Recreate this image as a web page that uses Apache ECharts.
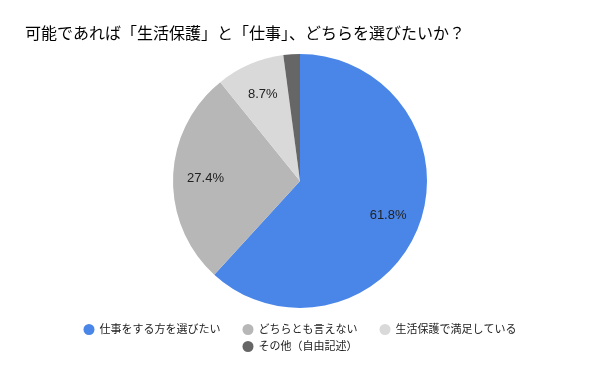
<!DOCTYPE html>
<html><head><meta charset="utf-8">
<script src="https://cdn.jsdelivr.net/npm/echarts@6/dist/echarts.min.js"></script>
<style>html,body{margin:0;padding:0;background:#fff}#c{width:600px;height:371px}</style>
</head><body><div id="c"></div>
<script>
const categories = ['仕事をする方を選びたい','どちらとも言えない','生活保護で満足している','その他（自由記述）'];
const values = [61.8, 27.4, 8.7, 2.1];
const colors = ['#4a86e8','#b7b7b7','#d9d9d9','#666666'];
const labelShown = [true, true, true, false];
const font = '"Liberation Sans", Arial, "Noto Sans CJK JP", sans-serif';
const data = categories.map((n,i)=>({name:n, value:values[i], itemStyle:{color:colors[i]}}));
const legendStyle = {left:'center', icon:'circle', itemWidth:11, itemHeight:11, itemGap:22,
    textStyle:{fontFamily:font, fontSize:11, color:'#222'}};
const chart = echarts.init(document.getElementById('c'));
chart.setOption({
  animation:false,
  title:{text:'可能であれば「生活保護」と「仕事」、どちらを選びたいか？', left:20, top:22,
    textStyle:{fontFamily:font, fontSize:16, fontWeight:'normal', color:'#000'}},
  legend:[
    Object.assign({top:319, data:categories.slice(0,3)}, legendStyle),
    Object.assign({top:336, data:categories.slice(3)}, legendStyle)
  ],
  series:[
    {type:'pie', radius:[0,127], center:[300,181], startAngle:90, clockwise:true, label:{show:false},
     labelLine:{show:false}, silent:true, data:data},
    {type:'pie', radius:[56,127], center:[300,181], startAngle:90, clockwise:true, silent:true,
     itemStyle:{color:'rgba(0,0,0,0)'}, legendHoverLink:false,
     label:{position:'inside', fontFamily:font, fontSize:13, color:'#222',
       formatter:p=>labelShown[p.dataIndex]?p.value.toFixed(1)+'%':''},
     labelLine:{show:false},
     data:categories.map((n,i)=>({name:n+' ', value:values[i], itemStyle:{color:'rgba(0,0,0,0)'}}))}
  ]
});
</script></body></html>
